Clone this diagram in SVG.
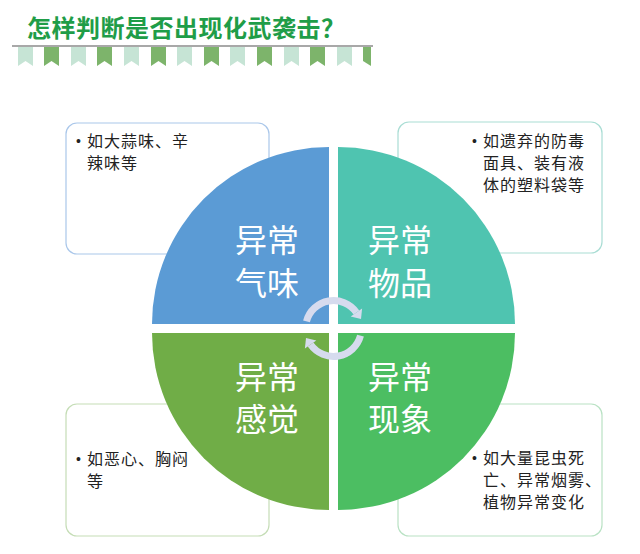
<svg xmlns="http://www.w3.org/2000/svg" width="640" height="554" viewBox="0 0 640 554">
<style>
.title{font-family:"Noto Sans CJK SC","Noto Sans",sans-serif;font-size:24px;font-weight:bold;fill:#1f9d48;letter-spacing:0.5px}
.big{font-family:"Noto Sans CJK SC","Noto Sans",sans-serif;font-size:32px;fill:#ffffff}
.small{font-family:"Noto Sans CJK SC","Noto Sans",sans-serif;font-size:16px;fill:#222222;letter-spacing:1px}
.bul{font-family:"Liberation Sans",Arial,sans-serif;font-size:14px;fill:#222222}
.box{fill:#ffffff;stroke-width:1.2}
.fl{fill:#c6e4d5}
.fd{fill:#7db46b}
.arc{fill:none;stroke:#d6dbee;stroke-width:7}
.head{fill:#d6dbee}
</style>
<defs>
<polygon id="flag" points="0,0 15,0 15,19 7.5,14 0,19"/>
</defs>
<g id="title">
<text class="title" x="27" y="37">怎样判断是否出现化武袭击？</text>
<line x1="12" y1="46" x2="373" y2="46" stroke="#a8a8a8" stroke-width="2"/>
<use href="#flag" class="fl" x="18" y="47"/>
<use href="#flag" class="fd" x="44" y="47"/>
<use href="#flag" class="fl" x="71" y="47"/>
<use href="#flag" class="fd" x="97" y="47"/>
<use href="#flag" class="fl" x="124" y="47"/>
<use href="#flag" class="fd" x="151" y="47"/>
<use href="#flag" class="fl" x="177" y="47"/>
<use href="#flag" class="fd" x="204" y="47"/>
<use href="#flag" class="fl" x="230" y="47"/>
<use href="#flag" class="fd" x="257" y="47"/>
<use href="#flag" class="fl" x="284" y="47"/>
<use href="#flag" class="fd" x="310" y="47"/>
<use href="#flag" class="fl" x="337" y="47"/>
<polygon class="fd" points="363,47 371,47 371,66 363,61"/>
</g>
<g id="box-tl">
<rect class="box" x="66" y="123" width="203" height="131" rx="11" stroke="#aac7ea"/>
<text class="bul" x="76" y="146">•</text>
<text class="small" x="87" y="147">如大蒜味、辛</text>
<text class="small" x="87" y="169">辣味等</text>
</g>
<g id="box-tr">
<rect class="box" x="398" y="122" width="204" height="131" rx="11" stroke="#a9ddd4"/>
<text class="bul" x="472" y="146">•</text>
<text class="small" x="483" y="147">如遗弃的防毒</text>
<text class="small" x="483" y="169">面具、装有液</text>
<text class="small" x="483" y="191">体的塑料袋等</text>
</g>
<g id="box-bl">
<rect class="box" x="66" y="404" width="203" height="132" rx="11" stroke="#c5ddb6"/>
<text class="bul" x="76" y="464">•</text>
<text class="small" x="87" y="465">如恶心、胸闷</text>
<text class="small" x="87" y="487">等</text>
</g>
<g id="box-br">
<rect class="box" x="398" y="404" width="204" height="132" rx="11" stroke="#b9e2c4"/>
<text class="bul" x="472" y="463">•</text>
<text class="small" x="483" y="464">如大量昆虫死</text>
<text class="small" x="483" y="486">亡、异常烟雾、</text>
<text class="small" x="483" y="508">植物异常变化</text>
</g>
<g id="q-tl">
<path d="M329,324 L152,324 A177,177 0 0 1 329,147 Z" fill="#5b9bd5"/>
<text class="big" x="235" y="252">异常</text>
<text class="big" x="235" y="295">气味</text>
</g>
<g id="q-tr">
<path d="M338,324 L338,147 A177,177 0 0 1 515,324 Z" fill="#4fc4b0"/>
<text class="big" x="368" y="252">异常</text>
<text class="big" x="368" y="295">物品</text>
</g>
<g id="q-bl">
<path d="M329,333 L329,510 A177,177 0 0 1 152,333 Z" fill="#70ad47"/>
<text class="big" x="235" y="389">异常</text>
<text class="big" x="235" y="431">感觉</text>
</g>
<g id="q-br">
<path d="M338,333 L515,333 A177,177 0 0 1 338,510 Z" fill="#4cbe62"/>
<text class="big" x="368" y="389">异常</text>
<text class="big" x="368" y="431">现象</text>
</g>
<g id="connectors">
<path class="arc" d="M306.5,321.3 A28,28 0 0 1 356.4,312.4"/>
<polygon class="head" points="361,319 362.1,308.4 350.7,316.4"/>
<path class="arc" d="M360.5,335.7 A28,28 0 0 1 310.6,344.6"/>
<polygon class="head" points="306,338 304.9,348.6 316.3,340.6"/>
</g>
</svg>
